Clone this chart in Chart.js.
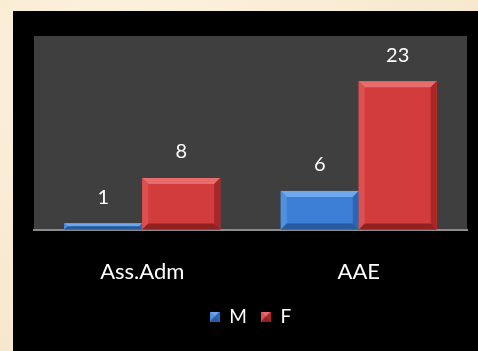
<!DOCTYPE html>
<html>
<head>
<meta charset="utf-8">
<script src="https://cdn.jsdelivr.net/npm/chart.js@4/dist/chart.umd.min.js"></script>
<style>
  html, body { margin: 0; padding: 0; }
  body {
    width: 478px; height: 351px; overflow: hidden; position: relative;
    background: radial-gradient(ellipse at 30% 20%, #fcf2de 0%, #f8ead0 60%, #f5e5c8 100%);
  }
  #panel {
    position: absolute; left: 13px; top: 11px; width: 465px; height: 340px;
    background: #000;
  }
</style>
</head>
<body>
<div id="panel"><canvas id="chart" width="465" height="340"></canvas></div>
<script>
const categories = ['Ass.Adm', 'AAE'];
const seriesNames = ['M', 'F'];
const valuesM = [1, 6];
const valuesF = [8, 23];

const palette = {
  M: { face: '#3b7fd6', light: '#6fa8ec', side: '#5290df', dark: '#2c66b2', bottom: '#275b9f' },
  F: { face: '#d23c3c', light: '#e96c6c', side: '#db5050', dark: '#a82828', bottom: '#932121' }
};

// Dark grey plotting surface behind the bars
const plotBackground = {
  id: 'plotBackground',
  beforeDraw(chart) {
    const { ctx, chartArea: a } = chart;
    ctx.save();
    ctx.fillStyle = '#3f3f3f';
    ctx.fillRect(a.left, a.top, a.right - a.left, a.bottom - a.top);
    ctx.restore();
  }
};

function bevelRect(ctx, l, t, r, b, c) {
  const bv = Math.min(6, (b - t) / 2, (r - l) / 2);
  ctx.fillStyle = c.face;
  ctx.fillRect(l, t, r - l, b - t);
  const poly = (pts, col) => {
    ctx.beginPath();
    ctx.moveTo(pts[0][0], pts[0][1]);
    for (let i = 1; i < pts.length; i++) ctx.lineTo(pts[i][0], pts[i][1]);
    ctx.closePath();
    ctx.fillStyle = col;
    ctx.fill();
  };
  poly([[l, t], [r, t], [r - bv, t + bv], [l + bv, t + bv]], c.light);
  poly([[l, t], [l + bv, t + bv], [l + bv, b - bv], [l, b]], c.side);
  poly([[r, t], [r, b], [r - bv, b - bv], [r - bv, t + bv]], c.dark);
  poly([[l, b], [l + bv, b - bv], [r - bv, b - bv], [r, b]], c.bottom);
}

// Bevelled bar faces and value labels above each bar
const bevelBars = {
  id: 'bevelBars',
  afterDatasetsDraw(chart) {
    const ctx = chart.ctx;
    ctx.save();
    chart.data.datasets.forEach((ds, di) => {
      const meta = chart.getDatasetMeta(di);
      const c = palette[ds.label];
      meta.data.forEach((bar, i) => {
        const p = bar.getProps(['x', 'y', 'base', 'width'], true);
        const l = p.x - p.width / 2, r = p.x + p.width / 2;
        bevelRect(ctx, l, p.y, r, p.base, c);
        ctx.fillStyle = '#ffffff';
        ctx.font = '20px Lato, "Open Sans", sans-serif';
        ctx.textAlign = 'center';
        ctx.textBaseline = 'middle';
        ctx.fillText(String(ds.data[i]), p.x, p.y - 26);
      });
    });
    ctx.restore();
  }
};

// Small bevelled squares for the legend markers
function legendSquare(c) {
  const cv = document.createElement('canvas');
  cv.width = 10; cv.height = 10;
  bevelRect(cv.getContext('2d'), 0, 0, 10, 10, c);
  return cv;
}

new Chart(document.getElementById('chart'), {
  type: 'bar',
  data: {
    labels: categories,
    datasets: [
      { label: seriesNames[0], data: valuesM, backgroundColor: palette.M.face },
      { label: seriesNames[1], data: valuesF, backgroundColor: palette.F.face }
    ]
  },
  options: {
    responsive: false,
    animation: false,
    devicePixelRatio: 1,
    categoryPercentage: 0.72,
    barPercentage: 1.0,
    layout: { padding: { left: 21, top: 25, right: 11, bottom: 15 } },
    scales: {
      x: {
        grid: { display: false, drawTicks: false },
        border: { display: true, color: '#8c8c8c', width: 2 },
        ticks: { color: '#ffffff', font: { family: 'Lato, "Open Sans", sans-serif', size: 22 }, padding: 29 },
        afterFit(scale) { scale.height -= 21; }
      },
      y: {
        display: false,
        min: 0,
        max: 30
      }
    },
    plugins: {
      legend: {
        position: 'bottom',
        labels: {
          color: '#ffffff',
          font: { family: 'Lato, "Open Sans", sans-serif', size: 19 },
          usePointStyle: true,
          boxWidth: 10,
          boxHeight: 10,
          padding: 14,
          generateLabels(chart) {
            return chart.data.datasets.map((ds, i) => ({
              text: ds.label,
              fontColor: '#ffffff',
              pointStyle: legendSquare(palette[ds.label]),
              datasetIndex: i,
              hidden: false,
              lineWidth: 0,
              strokeStyle: 'transparent'
            }));
          }
        }
      },
      tooltip: { enabled: false }
    }
  },
  plugins: [plotBackground, bevelBars]
});
</script>
</body>
</html>
